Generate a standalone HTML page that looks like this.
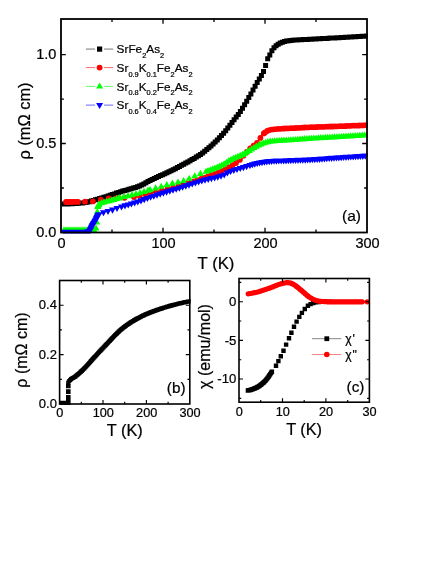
<!DOCTYPE html>
<html><head><meta charset="utf-8"><title>fig</title>
<style>html,body{margin:0;padding:0;background:#fff}svg{display:block;will-change:transform}text{font-family:"Liberation Sans",sans-serif;fill:#000;stroke:#000;stroke-width:0.22px}</style>
</head><body>
<svg width="443" height="573" viewBox="0 0 443 573">
<rect width="443" height="573" fill="#fff"/>
<clipPath id="ca"><rect x="60.1" y="18.1" width="307.8" height="215.3"/></clipPath><g clip-path="url(#ca)">
<path d="M61.5 201.5h5v5h-5zM63.6 201.5h5v5h-5zM65.7 201.4h5v5h-5zM67.8 201.3h5v5h-5zM69.9 201.2h5v5h-5zM72 201.1h5v5h-5zM74.1 201h5v5h-5zM76.2 200.8h5v5h-5zM78.3 200.6h5v5h-5zM80.4 200.4h5v5h-5zM82.5 200.1h5v5h-5zM84.6 199.7h5v5h-5zM86.7 199.2h5v5h-5zM88.8 198.6h5v5h-5zM90.9 198h5v5h-5zM93 197.3h5v5h-5zM95.1 196.7h5v5h-5zM97.2 196.1h5v5h-5zM99.3 195.5h5v5h-5zM101.4 194.8h5v5h-5zM103.5 194.2h5v5h-5zM105.6 193.5h5v5h-5zM107.7 192.8h5v5h-5zM109.8 192.1h5v5h-5zM111.9 191.4h5v5h-5zM114 190.6h5v5h-5zM116.1 190h5v5h-5zM118.2 189.3h5v5h-5zM120.3 188.6h5v5h-5zM122.4 188h5v5h-5zM124.5 187.4h5v5h-5zM126.6 186.8h5v5h-5zM128.7 186.2h5v5h-5zM130.8 185.6h5v5h-5zM132.9 184.9h5v5h-5zM135 184.2h5v5h-5zM137.1 183.4h5v5h-5zM139.2 182.4h5v5h-5zM141.3 181.4h5v5h-5zM143.4 180.2h5v5h-5zM145.5 179h5v5h-5zM147.6 178h5v5h-5zM149.7 176.9h5v5h-5zM151.8 175.9h5v5h-5zM153.9 175h5v5h-5zM156 174h5v5h-5zM158.1 173.1h5v5h-5zM160.2 172.2h5v5h-5zM162.3 171.2h5v5h-5zM164.4 170.3h5v5h-5zM166.5 169.3h5v5h-5zM168.6 168.3h5v5h-5zM170.7 167.3h5v5h-5zM172.8 166.2h5v5h-5zM174.9 165.1h5v5h-5zM177 164h5v5h-5zM179.1 162.8h5v5h-5zM181.2 161.7h5v5h-5zM183.3 160.6h5v5h-5zM185.4 159.4h5v5h-5zM187.5 158.3h5v5h-5zM189.6 157.1h5v5h-5zM191.7 155.9h5v5h-5zM193.8 154.6h5v5h-5zM195.9 153.3h5v5h-5zM198 151.9h5v5h-5zM200.1 150.4h5v5h-5zM202.2 148.8h5v5h-5zM204.3 147.1h5v5h-5zM206.4 145.3h5v5h-5zM208.5 143.4h5v5h-5zM210.6 141.5h5v5h-5zM212.7 139.5h5v5h-5zM214.8 137.4h5v5h-5zM216.9 135.2h5v5h-5zM219 133h5v5h-5zM221.1 130.7h5v5h-5zM223.2 128.2h5v5h-5zM225.3 125.5h5v5h-5zM227.4 122.8h5v5h-5zM229.5 120h5v5h-5zM231.6 117.2h5v5h-5zM233.7 114.6h5v5h-5zM235.8 111.9h5v5h-5zM237.9 108.9h5v5h-5zM240 105.7h5v5h-5zM242.1 102.3h5v5h-5zM244.2 98.7h5v5h-5zM246.3 95.1h5v5h-5zM248.4 91.4h5v5h-5zM250.5 87.6h5v5h-5zM252.6 83.8h5v5h-5zM254.7 80h5v5h-5zM256.8 76.6h5v5h-5zM258.9 73.1h5v5h-5zM261 69h5v5h-5zM263.1 63.1h5v5h-5zM265.2 56.2h5v5h-5zM267.3 52.5h5v5h-5zM269.4 48.2h5v5h-5zM271.5 45.2h5v5h-5zM273.6 43.2h5v5h-5zM275.7 41.7h5v5h-5zM277.8 40.6h5v5h-5zM279.9 39.7h5v5h-5zM282 39h5v5h-5zM284.1 38.5h5v5h-5zM286.2 38.2h5v5h-5zM288.3 37.9h5v5h-5zM290.4 37.7h5v5h-5zM292.5 37.6h5v5h-5zM294.6 37.4h5v5h-5zM296.7 37.3h5v5h-5zM298.8 37.2h5v5h-5zM300.9 37.1h5v5h-5zM303 37h5v5h-5zM305.1 36.9h5v5h-5zM307.2 36.8h5v5h-5zM309.3 36.7h5v5h-5zM311.4 36.6h5v5h-5zM313.5 36.5h5v5h-5zM315.6 36.3h5v5h-5zM317.7 36.2h5v5h-5zM319.8 36.1h5v5h-5zM321.9 36h5v5h-5zM324 35.9h5v5h-5zM326.1 35.8h5v5h-5zM328.2 35.6h5v5h-5zM330.3 35.5h5v5h-5zM332.4 35.4h5v5h-5zM334.5 35.3h5v5h-5zM336.6 35.2h5v5h-5zM338.7 35h5v5h-5zM340.8 34.9h5v5h-5zM342.9 34.8h5v5h-5zM345 34.7h5v5h-5zM347.1 34.5h5v5h-5zM349.2 34.4h5v5h-5zM351.3 34.3h5v5h-5zM353.4 34.2h5v5h-5zM355.5 34h5v5h-5zM357.6 33.9h5v5h-5zM359.7 33.8h5v5h-5zM361.8 33.7h5v5h-5zM363.9 33.5h5v5h-5z" fill="#000"/>
<path d="M66 202h0M67.5 202h0M69 202h0M70.5 202h0M72 202h0M73.5 201.9h0M75 201.9h0M76.5 201.9h0M78 201.9h0M85 201.7h0M92.9 201.4h0M100.8 199.7h0M108.7 198.5h0M116.6 198.1h0M124.5 197.8h0M134 197h0M139.6 195.7h0M145.2 194.3h0M150.8 192.7h0M156.4 191.6h0M162 190.3h0M167.6 189h0M173.2 187.4h0M178.8 186h0M180 185.7h0M183.5 184.8h0M187 183.7h0M190.5 182.6h0M194 181.4h0M197.5 180.1h0M201 178.9h0M204.5 177.7h0M208 176.4h0M211.5 175.1h0M215 173.8h0M218.5 172.4h0M222 170.8h0M225.5 169.1h0M229 167.1h0M232.5 165.1h0M236 163h0M239.5 159.9h0M240 159.4h0M243.4 155.7h0M246.8 151.9h0M250.2 148.3h0M253.6 145.7h0M257 142.9h0M260.4 137.9h0M263.8 133.4h0M265 132.4h0M267.2 130.9h0M269.4 130.1h0M271.6 129.6h0M273.8 129.3h0M276 129.1h0M278.2 128.9h0M280.4 128.8h0M282.6 128.7h0M284.8 128.5h0M287 128.4h0M289.2 128.3h0M291.4 128.2h0M293.6 128.1h0M295.8 128h0M298 127.9h0M300.2 127.8h0M302.4 127.6h0M304.6 127.5h0M306.8 127.4h0M309 127.3h0M311.2 127.2h0M313.4 127.2h0M315.6 127.1h0M317.8 127h0M320 126.9h0M322.2 126.8h0M324.4 126.8h0M326.6 126.7h0M328.8 126.6h0M331 126.5h0M333.2 126.5h0M335.4 126.4h0M337.6 126.3h0M339.8 126.2h0M342 126.1h0M344.2 126.1h0M346.4 126h0M348.6 125.9h0M350.8 125.8h0M353 125.7h0M355.2 125.7h0M357.4 125.6h0M359.6 125.5h0M361.8 125.4h0M364 125.3h0M366.2 125.2h0" stroke="#f00" stroke-width="5.8" stroke-linecap="round" fill="none"/>
<path d="M64 226.3l3.5 6.1h-7zM66 226.3l3.5 6.1h-7zM68 226.3l3.5 6.1h-7zM70 226.3l3.5 6.1h-7zM72 226.3l3.5 6.1h-7zM74 226.3l3.5 6.1h-7zM76 226.3l3.5 6.1h-7zM78 226.3l3.5 6.1h-7zM80 226.3l3.5 6.1h-7zM82 226.3l3.5 6.1h-7zM84 226.3l3.5 6.1h-7zM86 226.3l3.5 6.1h-7zM88 226.3l3.5 6.1h-7zM90 226.3l3.5 6.1h-7zM92 226.3l3.5 6.1h-7zM94 226.3l3.5 6.1h-7zM96 224.5l3.5 6.1h-7zM96.8 218.5l3.5 6.1h-7zM97.3 208l3.5 6.1h-7zM97.7 202.9l3.5 6.1h-7zM98 202l3.5 6.1h-7zM98.5 201l3.5 6.1h-7zM99 200.4l3.5 6.1h-7zM101.5 199.1l3.5 6.1h-7zM104 198.3l3.5 6.1h-7zM106.5 197.7l3.5 6.1h-7zM109 197.2l3.5 6.1h-7zM111.5 196.5l3.5 6.1h-7zM114 195.8l3.5 6.1h-7zM116.5 195l3.5 6.1h-7zM119 194.3l3.5 6.1h-7zM120 194.1l3.5 6.1h-7zM124 193l3.5 6.1h-7zM128 192.1l3.5 6.1h-7zM132 191.1l3.5 6.1h-7zM136 190.1l3.5 6.1h-7zM140 189.1l3.5 6.1h-7zM144 187.8l3.5 6.1h-7zM148 186.6l3.5 6.1h-7zM150 186l3.5 6.1h-7zM155.6 184.3l3.5 6.1h-7zM161.2 182.7l3.5 6.1h-7zM166.8 181.1l3.5 6.1h-7zM172.4 179.6l3.5 6.1h-7zM178 178.4l3.5 6.1h-7zM183.6 176.9l3.5 6.1h-7zM189.2 174.7l3.5 6.1h-7zM194.8 172.2l3.5 6.1h-7zM200.4 169.8l3.5 6.1h-7zM206 167.7l3.5 6.1h-7zM208 167l3.5 6.1h-7zM210.3 166.2l3.5 6.1h-7zM212.6 165.3l3.5 6.1h-7zM214.9 164.5l3.5 6.1h-7zM217.2 163.6l3.5 6.1h-7zM219.5 162.6l3.5 6.1h-7zM221.8 161.5l3.5 6.1h-7zM224.1 160.3l3.5 6.1h-7zM226.4 158.7l3.5 6.1h-7zM228.7 157.1l3.5 6.1h-7zM231 155.8l3.5 6.1h-7zM233.3 154.7l3.5 6.1h-7zM235.6 153.7l3.5 6.1h-7zM237.9 152.8l3.5 6.1h-7zM240.2 151.8l3.5 6.1h-7zM242.5 150.8l3.5 6.1h-7zM244.8 149.6l3.5 6.1h-7zM247.1 148.2l3.5 6.1h-7zM249.4 146.8l3.5 6.1h-7zM251.7 145.3l3.5 6.1h-7zM254 143.9l3.5 6.1h-7zM256.3 142.6l3.5 6.1h-7zM258.6 141.4l3.5 6.1h-7zM260.9 140.3l3.5 6.1h-7zM263.2 139.4l3.5 6.1h-7zM265.5 138.7l3.5 6.1h-7zM267.8 138.1l3.5 6.1h-7zM270.1 137.6l3.5 6.1h-7zM272.4 137.4l3.5 6.1h-7zM274.7 137.2l3.5 6.1h-7zM277 137l3.5 6.1h-7zM279.3 136.9l3.5 6.1h-7zM281.6 136.7l3.5 6.1h-7zM283.9 136.6l3.5 6.1h-7zM286.2 136.5l3.5 6.1h-7zM288.5 136.4l3.5 6.1h-7zM290.8 136.2l3.5 6.1h-7zM293.1 136l3.5 6.1h-7zM295.4 135.9l3.5 6.1h-7zM297.7 135.7l3.5 6.1h-7zM300 135.5l3.5 6.1h-7zM302.3 135.3l3.5 6.1h-7zM304.6 135.1l3.5 6.1h-7zM306.9 135l3.5 6.1h-7zM309.2 134.8l3.5 6.1h-7zM311.5 134.7l3.5 6.1h-7zM313.8 134.5l3.5 6.1h-7zM316.1 134.4l3.5 6.1h-7zM318.4 134.2l3.5 6.1h-7zM320.7 134.1l3.5 6.1h-7zM323 134l3.5 6.1h-7zM325.3 133.8l3.5 6.1h-7zM327.6 133.7l3.5 6.1h-7zM329.9 133.6l3.5 6.1h-7zM332.2 133.4l3.5 6.1h-7zM334.5 133.3l3.5 6.1h-7zM336.8 133.2l3.5 6.1h-7zM339.1 133l3.5 6.1h-7zM341.4 132.9l3.5 6.1h-7zM343.7 132.7l3.5 6.1h-7zM346 132.6l3.5 6.1h-7zM348.3 132.4l3.5 6.1h-7zM350.6 132.3l3.5 6.1h-7zM352.9 132.2l3.5 6.1h-7zM355.2 132l3.5 6.1h-7zM357.5 131.9l3.5 6.1h-7zM359.8 131.7l3.5 6.1h-7zM362.1 131.6l3.5 6.1h-7zM364.4 131.4l3.5 6.1h-7zM366.7 131.3l3.5 6.1h-7z" fill="#0f0"/>
<path d="M64 235.8l3.5 -6.1h-7zM66 235.8l3.5 -6.1h-7zM68 235.8l3.5 -6.1h-7zM70 235.8l3.5 -6.1h-7zM72 235.8l3.5 -6.1h-7zM74 235.8l3.5 -6.1h-7zM76 235.8l3.5 -6.1h-7zM78 235.8l3.5 -6.1h-7zM80 235.8l3.5 -6.1h-7zM82 235.8l3.5 -6.1h-7zM84 235.8l3.5 -6.1h-7zM86 235.8l3.5 -6.1h-7zM86.4 235.8l3.5 -6.1h-7zM86.8 235.8l3.5 -6.1h-7zM87.2 235.7l3.5 -6.1h-7zM87.6 235.7l3.5 -6.1h-7zM88 235.6l3.5 -6.1h-7zM88.4 235.4l3.5 -6.1h-7zM88.8 235.3l3.5 -6.1h-7zM89.2 235.2l3.5 -6.1h-7zM89.6 235l3.5 -6.1h-7zM90 234.6l3.5 -6.1h-7zM90.4 233.9l3.5 -6.1h-7zM90.8 233l3.5 -6.1h-7zM91.2 232.1l3.5 -6.1h-7zM91.6 231.1l3.5 -6.1h-7zM92 230.3l3.5 -6.1h-7zM92.4 229.6l3.5 -6.1h-7zM92.8 229l3.5 -6.1h-7zM93.2 228.4l3.5 -6.1h-7zM93.6 227.7l3.5 -6.1h-7zM94 227.1l3.5 -6.1h-7zM94.4 226.5l3.5 -6.1h-7zM94.8 225.8l3.5 -6.1h-7zM95.2 225.1l3.5 -6.1h-7zM95.6 224.3l3.5 -6.1h-7zM96 223.5l3.5 -6.1h-7zM96.4 222.7l3.5 -6.1h-7zM96.8 221.9l3.5 -6.1h-7zM97.2 221.1l3.5 -6.1h-7zM97.6 220.4l3.5 -6.1h-7zM98 219.6l3.5 -6.1h-7zM98.4 219l3.5 -6.1h-7zM98.8 218.5l3.5 -6.1h-7zM99 218.3l3.5 -6.1h-7zM103.5 216.3l3.5 -6.1h-7zM108 215.1l3.5 -6.1h-7zM112.5 213.7l3.5 -6.1h-7zM117 212.1l3.5 -6.1h-7zM121.5 210.5l3.5 -6.1h-7zM125 209.4l3.5 -6.1h-7zM128.2 208.5l3.5 -6.1h-7zM131.4 207.5l3.5 -6.1h-7zM134.6 206.5l3.5 -6.1h-7zM137.8 205.5l3.5 -6.1h-7zM141 204.4l3.5 -6.1h-7zM144.2 203.2l3.5 -6.1h-7zM147.4 202l3.5 -6.1h-7zM150.6 200.8l3.5 -6.1h-7zM153.8 199.8l3.5 -6.1h-7zM157 198.7l3.5 -6.1h-7zM160.2 197.7l3.5 -6.1h-7zM163.4 196.7l3.5 -6.1h-7zM166.6 195.7l3.5 -6.1h-7zM169.8 194.7l3.5 -6.1h-7zM173 193.7l3.5 -6.1h-7zM176.2 192.8l3.5 -6.1h-7zM179.4 191.8l3.5 -6.1h-7zM182.6 190.8l3.5 -6.1h-7zM185.8 189.7l3.5 -6.1h-7zM189 188.7l3.5 -6.1h-7zM192.2 187.6l3.5 -6.1h-7zM195.4 186.5l3.5 -6.1h-7zM198.6 185.5l3.5 -6.1h-7zM201.8 184.5l3.5 -6.1h-7zM205 183.7l3.5 -6.1h-7zM208.2 182.9l3.5 -6.1h-7zM211.4 182.2l3.5 -6.1h-7zM214.6 181.5l3.5 -6.1h-7zM217.8 180.7l3.5 -6.1h-7zM221 179.7l3.5 -6.1h-7zM224.2 178.5l3.5 -6.1h-7zM227.4 176.6l3.5 -6.1h-7zM230.6 175l3.5 -6.1h-7zM233.8 173.9l3.5 -6.1h-7zM237 173l3.5 -6.1h-7zM240.2 172.1l3.5 -6.1h-7zM243.4 171.2l3.5 -6.1h-7zM246.6 170.2l3.5 -6.1h-7zM249.8 169.1l3.5 -6.1h-7zM250 169.1l3.5 -6.1h-7zM252.4 168.3l3.5 -6.1h-7zM254.8 167.7l3.5 -6.1h-7zM257.2 167.1l3.5 -6.1h-7zM259.6 166.6l3.5 -6.1h-7zM262 166.2l3.5 -6.1h-7zM264.4 165.8l3.5 -6.1h-7zM266.8 165.4l3.5 -6.1h-7zM269.2 165.2l3.5 -6.1h-7zM271.6 165l3.5 -6.1h-7zM274 164.8l3.5 -6.1h-7zM276.4 164.7l3.5 -6.1h-7zM278.8 164.6l3.5 -6.1h-7zM281.2 164.5l3.5 -6.1h-7zM283.6 164.5l3.5 -6.1h-7zM286 164.4l3.5 -6.1h-7zM288.4 164.3l3.5 -6.1h-7zM290.8 164.2l3.5 -6.1h-7zM293.2 164.1l3.5 -6.1h-7zM295.6 164l3.5 -6.1h-7zM298 163.9l3.5 -6.1h-7zM300.4 163.8l3.5 -6.1h-7zM302.8 163.8l3.5 -6.1h-7zM305.2 163.7l3.5 -6.1h-7zM307.6 163.6l3.5 -6.1h-7zM310 163.4l3.5 -6.1h-7zM312.4 163.3l3.5 -6.1h-7zM314.8 163.2l3.5 -6.1h-7zM317.2 163l3.5 -6.1h-7zM319.6 162.9l3.5 -6.1h-7zM322 162.7l3.5 -6.1h-7zM324.4 162.5l3.5 -6.1h-7zM326.8 162.3l3.5 -6.1h-7zM329.2 162.1l3.5 -6.1h-7zM331.6 161.9l3.5 -6.1h-7zM334 161.8l3.5 -6.1h-7zM336.4 161.6l3.5 -6.1h-7zM338.8 161.4l3.5 -6.1h-7zM341.2 161.3l3.5 -6.1h-7zM343.6 161.1l3.5 -6.1h-7zM346 160.9l3.5 -6.1h-7zM348.4 160.8l3.5 -6.1h-7zM350.8 160.6l3.5 -6.1h-7zM353.2 160.5l3.5 -6.1h-7zM355.6 160.3l3.5 -6.1h-7zM358 160.2l3.5 -6.1h-7zM360.4 160l3.5 -6.1h-7zM362.8 159.9l3.5 -6.1h-7zM365.2 159.7l3.5 -6.1h-7z" fill="#00f"/>
</g>
<rect x="61" y="19" width="306" height="213.5" fill="none" stroke="#000" stroke-width="1.8"/>
<path d="M163 232.5v-4.8M163 19v4.8M265 232.5v-4.8M265 19v4.8M112 232.5v-2.9M112 19v2.9M214 232.5v-2.9M214 19v2.9M316 232.5v-2.9M316 19v2.9M61 143.5h4.8M367 143.5h-4.8M61 54.6h4.8M367 54.6h-4.8M61 188h2.9M367 188h-2.9M61 99.1h2.9M367 99.1h-2.9" stroke="#000" stroke-width="1.3" fill="none"/>
<text x="61.5" y="248.3" font-size="14.5" text-anchor="middle" >0</text>
<text x="163.5" y="248.3" font-size="14.5" text-anchor="middle" >100</text>
<text x="265.5" y="248.3" font-size="14.5" text-anchor="middle" >200</text>
<text x="367.5" y="248.3" font-size="14.5" text-anchor="middle" >300</text>
<text x="56.4" y="237.1" font-size="14.5" text-anchor="end" >0.0</text>
<text x="56.4" y="148.1" font-size="14.5" text-anchor="end" >0.5</text>
<text x="56.4" y="59.2" font-size="14.5" text-anchor="end" >1.0</text>
<text x="216" y="268.7" font-size="16.7" text-anchor="middle" >T (K)</text>
<text transform="translate(30.3,121) rotate(-90)" font-size="16.4" text-anchor="middle">ρ (mΩ cm)</text>
<text x="351.5" y="220.8" font-size="15.5" text-anchor="middle" >(a)</text>
<path d="M85.9 49.1h9.1M104.1 49.1h9.1" stroke="#b0b0b0" stroke-width="1.8"/>
<path d="M97 46.5h5.2v5.2h-5.2z" fill="#000"/>
<text x="116.6" y="53.4" font-size="11.8" text-anchor="start" >SrFe<tspan dy="4.6" font-size="7.4">2</tspan><tspan dy="-4.6">As</tspan><tspan dy="4.6" font-size="7.4">2</tspan></text>
<path d="M85.9 67.6h9.1M104.1 67.6h9.1" stroke="#f00" stroke-width="1" opacity="0.6"/>
<path d="M99.6 67.6h0" stroke="#f00" stroke-width="5.9" stroke-linecap="round" fill="none"/>
<text x="116.6" y="71.9" font-size="11.8" text-anchor="start" >Sr<tspan dy="4.6" font-size="7.4">0.9</tspan><tspan dy="-4.6">K</tspan><tspan dy="4.6" font-size="7.4">0.1</tspan><tspan dy="-4.6">Fe</tspan><tspan dy="4.6" font-size="7.4">2</tspan><tspan dy="-4.6">As</tspan><tspan dy="4.6" font-size="7.4">2</tspan></text>
<path d="M85.9 86.4h9.1M104.1 86.4h9.1" stroke="#0f0" stroke-width="1" opacity="0.6"/>
<path d="M99.6 82.4l3.5 6.1h-7z" fill="#0f0"/>
<text x="116.6" y="90.7" font-size="11.8" text-anchor="start" >Sr<tspan dy="4.6" font-size="7.4">0.8</tspan><tspan dy="-4.6">K</tspan><tspan dy="4.6" font-size="7.4">0.2</tspan><tspan dy="-4.6">Fe</tspan><tspan dy="4.6" font-size="7.4">2</tspan><tspan dy="-4.6">As</tspan><tspan dy="4.6" font-size="7.4">2</tspan></text>
<path d="M85.9 105.1h9.1M104.1 105.1h9.1" stroke="#00f" stroke-width="1" opacity="0.6"/>
<path d="M99.6 109.1l3.5 -6.1h-7z" fill="#00f"/>
<text x="116.6" y="109.4" font-size="11.8" text-anchor="start" >Sr<tspan dy="4.6" font-size="7.4">0.6</tspan><tspan dy="-4.6">K</tspan><tspan dy="4.6" font-size="7.4">0.4</tspan><tspan dy="-4.6">Fe</tspan><tspan dy="4.6" font-size="7.4">2</tspan><tspan dy="-4.6">As</tspan><tspan dy="4.6" font-size="7.4">2</tspan></text>
<clipPath id="cb"><rect x="58.7" y="279.6" width="132" height="125.3"/></clipPath><g clip-path="url(#cb)">
<path d="M59.8 400.7h4.4v4.4h-4.4zM60.8 400.7h4.4v4.4h-4.4zM61.8 400.7h4.4v4.4h-4.4zM62.8 400.7h4.4v4.4h-4.4zM63.8 400.7h4.4v4.4h-4.4zM64.8 400.7h4.4v4.4h-4.4z" fill="#000"/>
<path d="M66 400.4h4.6v4.6h-4.6zM66 397.7h4.6v4.6h-4.6zM66 394.9h4.6v4.6h-4.6zM66 389.3h4.6v4.6h-4.6zM66 383.7h4.6v4.6h-4.6z" fill="#000"/>
<path d="M66.2 380.6h4.1v4.1h-4.1zM67.2 378.9h4.1v4.1h-4.1zM68.1 377.9h4.1v4.1h-4.1zM69 377.1h4.1v4.1h-4.1zM69.9 376.5h4.1v4.1h-4.1zM70.8 376h4.1v4.1h-4.1zM71.7 375.5h4.1v4.1h-4.1zM72.6 374.9h4.1v4.1h-4.1zM73.5 374.3h4.1v4.1h-4.1zM74.4 373.5h4.1v4.1h-4.1zM75.3 372.8h4.1v4.1h-4.1zM76.2 372h4.1v4.1h-4.1zM77.1 371.2h4.1v4.1h-4.1zM78 370.4h4.1v4.1h-4.1zM78.9 369.6h4.1v4.1h-4.1zM79.8 368.8h4.1v4.1h-4.1zM80.7 367.9h4.1v4.1h-4.1zM81.6 367h4.1v4.1h-4.1zM82.5 366.1h4.1v4.1h-4.1zM83.4 365.2h4.1v4.1h-4.1zM84.3 364.2h4.1v4.1h-4.1zM85.2 363.2h4.1v4.1h-4.1zM86.1 362.2h4.1v4.1h-4.1zM87 361.2h4.1v4.1h-4.1zM87.9 360.2h4.1v4.1h-4.1zM88.8 359.1h4.1v4.1h-4.1zM89.7 358.1h4.1v4.1h-4.1zM90.6 357.1h4.1v4.1h-4.1zM91.5 356.1h4.1v4.1h-4.1zM92.4 355.1h4.1v4.1h-4.1zM93.3 354.2h4.1v4.1h-4.1zM94.2 353.2h4.1v4.1h-4.1zM95.1 352.2h4.1v4.1h-4.1zM96 351.2h4.1v4.1h-4.1zM96.9 350.2h4.1v4.1h-4.1zM97.8 349.2h4.1v4.1h-4.1zM98.7 348.3h4.1v4.1h-4.1zM99.6 347.3h4.1v4.1h-4.1zM100.5 346.4h4.1v4.1h-4.1zM101.4 345.4h4.1v4.1h-4.1zM102.3 344.5h4.1v4.1h-4.1zM103.2 343.6h4.1v4.1h-4.1zM104.1 342.6h4.1v4.1h-4.1zM105 341.7h4.1v4.1h-4.1zM105.9 340.7h4.1v4.1h-4.1zM106.8 339.7h4.1v4.1h-4.1zM107.7 338.8h4.1v4.1h-4.1zM108.6 337.8h4.1v4.1h-4.1zM109.5 336.8h4.1v4.1h-4.1zM110.4 335.9h4.1v4.1h-4.1zM111.3 334.9h4.1v4.1h-4.1zM112.2 334h4.1v4.1h-4.1zM113.1 333h4.1v4.1h-4.1zM114 332.2h4.1v4.1h-4.1zM114.9 331.3h4.1v4.1h-4.1zM115.8 330.4h4.1v4.1h-4.1zM116.7 329.6h4.1v4.1h-4.1zM117.6 328.7h4.1v4.1h-4.1zM118.5 327.9h4.1v4.1h-4.1zM119.4 327.1h4.1v4.1h-4.1zM120.3 326.4h4.1v4.1h-4.1zM121.2 325.7h4.1v4.1h-4.1zM122.1 325h4.1v4.1h-4.1zM123 324.3h4.1v4.1h-4.1zM123.9 323.7h4.1v4.1h-4.1zM124.8 323h4.1v4.1h-4.1zM125.7 322.4h4.1v4.1h-4.1zM126.6 321.8h4.1v4.1h-4.1zM127.5 321.2h4.1v4.1h-4.1zM128.4 320.6h4.1v4.1h-4.1zM129.3 320h4.1v4.1h-4.1zM130.2 319.4h4.1v4.1h-4.1zM131.1 318.9h4.1v4.1h-4.1zM132 318.3h4.1v4.1h-4.1zM132.9 317.8h4.1v4.1h-4.1zM133.8 317.3h4.1v4.1h-4.1zM134.7 316.8h4.1v4.1h-4.1zM135.6 316.3h4.1v4.1h-4.1zM136.5 315.9h4.1v4.1h-4.1zM137.4 315.4h4.1v4.1h-4.1zM138.3 314.9h4.1v4.1h-4.1zM139.2 314.5h4.1v4.1h-4.1zM140.1 314h4.1v4.1h-4.1zM141 313.6h4.1v4.1h-4.1zM141.9 313.2h4.1v4.1h-4.1zM142.8 312.7h4.1v4.1h-4.1zM143.7 312.3h4.1v4.1h-4.1zM144.6 311.9h4.1v4.1h-4.1zM145.5 311.6h4.1v4.1h-4.1zM146.4 311.2h4.1v4.1h-4.1zM147.3 310.8h4.1v4.1h-4.1zM148.2 310.5h4.1v4.1h-4.1zM149.1 310.1h4.1v4.1h-4.1zM150 309.8h4.1v4.1h-4.1zM150.9 309.4h4.1v4.1h-4.1zM151.8 309.1h4.1v4.1h-4.1zM152.7 308.8h4.1v4.1h-4.1zM153.6 308.5h4.1v4.1h-4.1zM154.5 308.1h4.1v4.1h-4.1zM155.4 307.8h4.1v4.1h-4.1zM156.3 307.5h4.1v4.1h-4.1zM157.2 307.2h4.1v4.1h-4.1zM158.1 306.9h4.1v4.1h-4.1zM159 306.6h4.1v4.1h-4.1zM159.9 306.3h4.1v4.1h-4.1zM160.8 306h4.1v4.1h-4.1zM161.7 305.7h4.1v4.1h-4.1zM162.6 305.5h4.1v4.1h-4.1zM163.5 305.2h4.1v4.1h-4.1zM164.4 304.9h4.1v4.1h-4.1zM165.3 304.6h4.1v4.1h-4.1zM166.2 304.4h4.1v4.1h-4.1zM167.1 304.1h4.1v4.1h-4.1zM168 303.8h4.1v4.1h-4.1zM168.9 303.6h4.1v4.1h-4.1zM169.8 303.3h4.1v4.1h-4.1zM170.7 303.1h4.1v4.1h-4.1zM171.6 302.9h4.1v4.1h-4.1zM172.5 302.6h4.1v4.1h-4.1zM173.4 302.4h4.1v4.1h-4.1zM174.3 302.2h4.1v4.1h-4.1zM175.2 301.9h4.1v4.1h-4.1zM176.1 301.7h4.1v4.1h-4.1zM177 301.5h4.1v4.1h-4.1zM177.9 301.3h4.1v4.1h-4.1zM178.8 301.1h4.1v4.1h-4.1zM179.7 300.9h4.1v4.1h-4.1zM180.6 300.7h4.1v4.1h-4.1zM181.5 300.5h4.1v4.1h-4.1zM182.4 300.3h4.1v4.1h-4.1zM183.3 300.1h4.1v4.1h-4.1zM184.2 299.9h4.1v4.1h-4.1zM185.1 299.7h4.1v4.1h-4.1zM186 299.5h4.1v4.1h-4.1zM186.9 299.4h4.1v4.1h-4.1zM187.8 299.2h4.1v4.1h-4.1z" fill="#000"/>
</g>
<rect x="59.6" y="280.5" width="130.2" height="123.5" fill="none" stroke="#000" stroke-width="1.6"/>
<path d="M103 404v-4M103 280.5v4M146.4 404v-4M146.4 280.5v4M81.3 404v-2.3M81.3 280.5v2.3M124.7 404v-2.3M124.7 280.5v2.3M168.1 404v-2.3M168.1 280.5v2.3M59.6 354.6h4M189.8 354.6h-4M59.6 305.2h4M189.8 305.2h-4M59.6 379.3h2.3M189.8 379.3h-2.3M59.6 329.9h2.3M189.8 329.9h-2.3" stroke="#000" stroke-width="1.15" fill="none"/>
<text x="59.9" y="417.4" font-size="12.7" text-anchor="middle" >0</text>
<text x="103.3" y="417.4" font-size="12.7" text-anchor="middle" >100</text>
<text x="146.7" y="417.4" font-size="12.7" text-anchor="middle" >200</text>
<text x="190.1" y="417.4" font-size="12.7" text-anchor="middle" >300</text>
<text x="56.9" y="408.2" font-size="13" text-anchor="end" >0.0</text>
<text x="56.9" y="358.8" font-size="13" text-anchor="end" >0.2</text>
<text x="56.9" y="309.4" font-size="13" text-anchor="end" >0.4</text>
<text x="124.8" y="435.5" font-size="16.3" text-anchor="middle" >T (K)</text>
<text transform="translate(27.2,350) rotate(-90)" font-size="16" text-anchor="middle">ρ (mΩ cm)</text>
<text x="176.2" y="393" font-size="15.3" text-anchor="middle" >(b)</text>
<clipPath id="cc"><rect x="238.1" y="277.6" width="132.2" height="125.5"/></clipPath><g clip-path="url(#cc)">
<path d="M245.7 388.3h4.4v4.4h-4.4zM246.5 388.1h4.4v4.4h-4.4zM247.3 388h4.4v4.4h-4.4zM248.1 387.8h4.4v4.4h-4.4zM248.9 387.5h4.4v4.4h-4.4zM249.7 387.2h4.4v4.4h-4.4zM250.5 387h4.4v4.4h-4.4zM251.3 386.7h4.4v4.4h-4.4zM252.1 386.3h4.4v4.4h-4.4zM252.9 386h4.4v4.4h-4.4zM253.7 385.7h4.4v4.4h-4.4zM254.5 385.3h4.4v4.4h-4.4zM255.3 384.8h4.4v4.4h-4.4zM256.1 384.4h4.4v4.4h-4.4zM256.9 383.9h4.4v4.4h-4.4zM257.7 383.3h4.4v4.4h-4.4zM258.5 382.7h4.4v4.4h-4.4zM259.3 382.1h4.4v4.4h-4.4zM260.1 381.4h4.4v4.4h-4.4zM260.9 380.7h4.4v4.4h-4.4zM261.7 380h4.4v4.4h-4.4zM262.5 379.2h4.4v4.4h-4.4zM263.3 378.4h4.4v4.4h-4.4zM264.1 377.4h4.4v4.4h-4.4zM264.9 376.4h4.4v4.4h-4.4zM265.7 375.4h4.4v4.4h-4.4zM266.5 374.3h4.4v4.4h-4.4zM267.3 373.1h4.4v4.4h-4.4zM268.1 371.9h4.4v4.4h-4.4zM268.9 370.6h4.4v4.4h-4.4zM269.7 369.5h4.4v4.4h-4.4zM273.8 363.6h4.4v4.4h-4.4zM276.2 358.9h4.4v4.4h-4.4zM278.6 354.1h4.4v4.4h-4.4zM281.3 348.6h4.4v4.4h-4.4zM283.9 342.4h4.4v4.4h-4.4zM286.8 336.1h4.4v4.4h-4.4zM289.2 330.5h4.4v4.4h-4.4zM291.8 324.6h4.4v4.4h-4.4zM294.4 319.4h4.4v4.4h-4.4zM297.1 314.7h4.4v4.4h-4.4zM299.7 310.7h4.4v4.4h-4.4zM302.6 306.8h4.4v4.4h-4.4zM305.7 303.6h4.4v4.4h-4.4zM308.4 301.9h4.4v4.4h-4.4zM311.1 300.9h4.4v4.4h-4.4zM313.8 300.2h4.4v4.4h-4.4zM316.5 299.9h4.4v4.4h-4.4zM319.2 299.7h4.4v4.4h-4.4zM321.9 299.6h4.4v4.4h-4.4zM324.6 299.6h4.4v4.4h-4.4zM327.3 299.6h4.4v4.4h-4.4z" fill="#000"/>
<path d="M248.2 293.8h0M249.2 293.6h0M250.2 293.5h0M251.2 293.3h0M252.2 293.1h0M253.2 292.9h0M254.2 292.7h0M255.2 292.5h0M256.2 292.3h0M257.2 292.1h0M258.2 291.8h0M259.2 291.5h0M260.2 291.2h0M261.2 290.8h0M262.2 290.5h0M263.2 290.2h0M264.2 289.8h0M265.2 289.5h0M266.2 289.2h0M267.2 288.8h0M268.2 288.5h0M269.2 288.2h0M270.2 287.8h0M271.2 287.4h0M272.2 287.1h0M273.2 286.7h0M274.2 286.3h0M275.2 285.8h0M276.2 285.4h0M277.2 285h0M278.2 284.6h0M279.2 284.3h0M280.2 284h0M281.2 283.7h0M282.2 283.4h0M283.2 283.2h0M284.2 283h0M285.2 282.8h0M286.2 282.7h0M287.2 282.6h0M288.2 282.6h0M289.2 282.8h0M290.2 282.9h0M291.2 283.2h0M292.2 283.7h0M293.2 284.2h0M294.2 284.8h0M295.2 285.4h0M296.2 286.2h0M297.2 286.9h0M298.2 287.7h0M299.2 288.6h0M300.2 289.4h0M301.2 290.2h0M302.2 291.1h0M303.2 291.9h0M304.2 292.8h0M305.2 293.7h0M306.2 294.5h0M307.2 295.4h0M308.2 296.2h0M309.2 297h0M310.2 297.6h0M311.2 298.2h0M312.2 298.8h0M313.2 299.3h0M314.2 299.7h0M315.2 300h0M316.2 300.4h0M317.2 300.7h0M318.2 300.9h0M319.2 301.2h0M320.2 301.3h0M321.2 301.4h0M322.2 301.5h0M323.2 301.5h0M324.2 301.6h0M325.2 301.7h0M326.2 301.7h0M327.2 301.8h0M328.2 301.8h0M329.2 301.8h0M330.2 301.8h0M331.2 301.8h0M332.2 301.8h0M333.2 301.8h0M334.2 301.8h0M335.2 301.8h0M336.2 301.8h0M337.2 301.8h0M338.2 301.8h0M339.2 301.8h0M340.2 301.8h0M341.2 301.8h0M342.2 301.8h0M343.2 301.8h0M344.2 301.8h0M345.2 301.8h0M346.2 301.8h0M347.2 301.8h0M348.2 301.8h0M349.2 301.8h0M350.2 301.8h0M351.2 301.8h0M352.2 301.8h0M353.2 301.8h0M354.2 301.8h0M355.2 301.8h0M356.2 301.8h0M357.2 301.8h0M358.2 301.8h0M359.2 301.8h0M360.2 301.8h0M361.2 301.8h0M362.2 301.8h0M367.2 301.8h0" stroke="#f00" stroke-width="5.2" stroke-linecap="round" fill="none"/>
</g>
<rect x="239" y="278.5" width="130.4" height="123.7" fill="none" stroke="#000" stroke-width="1.6"/>
<path d="M282.5 402.2v-4M282.5 278.5v4M325.9 402.2v-4M325.9 278.5v4M260.7 402.2v-2.3M260.7 278.5v2.3M304.2 402.2v-2.3M304.2 278.5v2.3M347.7 402.2v-2.3M347.7 278.5v2.3M239 301.7h4M369.4 301.7h-4M239 340.4h4M369.4 340.4h-4M239 379h4M369.4 379h-4M239 282.4h2.3M369.4 282.4h-2.3M239 321h2.3M369.4 321h-2.3M239 359.7h2.3M369.4 359.7h-2.3M239 398.3h2.3M369.4 398.3h-2.3" stroke="#000" stroke-width="1.15" fill="none"/>
<text x="239.2" y="415.5" font-size="12.7" text-anchor="middle" >0</text>
<text x="282.7" y="415.5" font-size="12.7" text-anchor="middle" >10</text>
<text x="326.1" y="415.5" font-size="12.7" text-anchor="middle" >20</text>
<text x="369.6" y="415.5" font-size="12.7" text-anchor="middle" >30</text>
<text x="236.4" y="306.1" font-size="13.2" text-anchor="end" >0</text>
<text x="236.4" y="344.8" font-size="13.2" text-anchor="end" >-5</text>
<text x="236.4" y="383.4" font-size="13.2" text-anchor="end" >-10</text>
<text x="304.1" y="434.9" font-size="16.3" text-anchor="middle" >T (K)</text>
<text transform="translate(210.4,346.5) rotate(-90)" font-size="16" text-anchor="middle">χ (emu/mol)</text>
<text x="355.5" y="391.5" font-size="15.3" text-anchor="middle" >(c)</text>
<path d="M312 338.7h29.3" stroke="#000" stroke-width="0.6" opacity="0.8"/>
<path d="M324.4 336.3h4.8v4.8h-4.8z" fill="#000"/>
<path d="M312 354.5h29.3" stroke="#f00" stroke-width="0.6" opacity="0.8"/>
<path d="M326.8 354.5h0" stroke="#f00" stroke-width="5.6" stroke-linecap="round" fill="none"/>
<text x="345.3" y="342.8" font-size="12.2" text-anchor="start" >χ<tspan dx='0.9'>'</tspan></text>
<text x="345.3" y="358.6" font-size="12.2" text-anchor="start" >χ<tspan dx="0.9">"</tspan></text>
</svg>
</body></html>
